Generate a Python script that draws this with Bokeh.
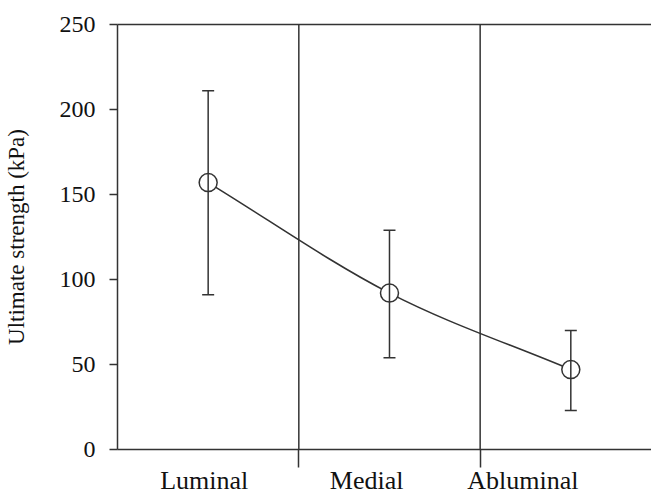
from bokeh.plotting import figure
from bokeh.models import (Range1d, LinearAxis, FixedTicker, Span, Whisker,
                          TeeHead, ColumnDataSource)
from bokeh.embed import file_html
from bokeh.resources import INLINE

# ---- data ----
categories = ["Luminal", "Medial", "Abluminal"]
means = [157, 92, 47]
upper = [211, 129, 70]
lower = [91, 54, 23]
y_ticks = [0, 50, 100, 150, 200, 250]

# ---- layout constants ----
cat_x = [i + 0.5 for i in range(len(categories))]
label_shift = [-0.022, -0.126, -0.264]      # labels sit a bit left of the point
label_x = [c + s for c, s in zip(cat_x, label_shift)]
dividers = [i + 1 for i in range(len(categories) - 1)]

INK = "#333333"
TXT = "#111111"
FONT = "Liberation Serif"

p = figure(width=651, height=497, x_range=Range1d(0, 2.945),
           y_range=Range1d(0, 250), output_backend="svg",
           toolbar_location=None)
p.min_border_left = 115
p.min_border_top = 24
p.min_border_right = 0
p.min_border_bottom = 46
p.outline_line_color = None
p.xgrid.visible = False
p.ygrid.visible = False
p.background_fill_color = "white"
p.border_fill_color = "white"

# y axis
ya = p.yaxis[0]
ya.ticker = FixedTicker(ticks=y_ticks)
ya.major_tick_out = 8
ya.major_tick_in = 0
ya.minor_tick_out = 0
ya.minor_tick_in = 0
ya.axis_line_color = INK
ya.axis_line_width = 1.5
ya.major_tick_line_color = INK
ya.major_tick_line_width = 1.5
ya.major_label_text_font = FONT
ya.major_label_text_font_size = "24px"
ya.major_label_text_color = TXT
ya.major_label_standoff = 14
ya.axis_label = "Ultimate strength (kPa)"
ya.axis_label_text_font = FONT
ya.axis_label_text_font_size = "23px"
ya.axis_label_text_font_style = "normal"
ya.axis_label_text_color = TXT
ya.axis_label_standoff = 28

# x axis: category names (major, no mark) + divider ticks (minor)
xa = p.xaxis[0]
xa.ticker = FixedTicker(ticks=label_x, minor_ticks=dividers)
xa.major_label_overrides = {lx: c for lx, c in zip(label_x, categories)}
xa.major_tick_out = 0
xa.major_tick_in = 0
xa.major_tick_line_color = None
xa.minor_tick_out = 18
xa.minor_tick_in = 0
xa.minor_tick_line_color = INK
xa.minor_tick_line_width = 1.5
xa.axis_line_color = INK
xa.axis_line_width = 1.5
xa.major_label_text_font = FONT
xa.major_label_text_font_size = "26px"
xa.major_label_text_color = TXT
xa.major_label_standoff = -2

# top border line
top = LinearAxis(ticker=FixedTicker(ticks=[]), major_tick_out=0,
                 major_tick_in=0, minor_tick_out=0, minor_tick_in=0,
                 major_label_text_font_size="0px", major_label_standoff=0,
                 axis_line_color=INK, axis_line_width=1.5)
p.add_layout(top, "above")

# divider lines
for d in dividers:
    p.add_layout(Span(location=d, dimension="height", line_color=INK,
                      line_width=1.5))

# smooth connecting curve (Catmull-Rom -> cubic Bezier)
n = len(cat_x)
pts = list(zip(cat_x, means))
x0, y0, x1, y1, cx0, cy0, cx1, cy1 = [], [], [], [], [], [], [], []
for i in range(n - 1):
    pa, pb = pts[i], pts[i + 1]
    pprev = pts[i - 1] if i > 0 else pa
    pnext = pts[i + 2] if i + 2 < n else pb
    k0 = 6.0 if i > 0 else 3.0
    k1 = 6.0 if i + 2 < n else 3.0
    x0.append(pa[0]); y0.append(pa[1])
    x1.append(pb[0]); y1.append(pb[1])
    cx0.append(pa[0] + (pb[0] - pprev[0]) / k0)
    cy0.append(pa[1] + (pb[1] - pprev[1]) / k0)
    cx1.append(pb[0] - (pnext[0] - pa[0]) / k1)
    cy1.append(pb[1] - (pnext[1] - pa[1]) / k1)
p.bezier(x0=x0, y0=y0, x1=x1, y1=y1, cx0=cx0, cy0=cy0, cx1=cx1, cy1=cy1,
         line_color=INK, line_width=1.6)

# error bars
src = ColumnDataSource(dict(x=cat_x, mean=means, upper=upper, lower=lower))
w = Whisker(source=src, base="x", upper="upper", lower="lower",
            line_color=INK, line_width=1.5, level="glyph",
            upper_head=TeeHead(size=12, line_color=INK, line_width=1.5),
            lower_head=TeeHead(size=12, line_color=INK, line_width=1.5))
p.add_layout(w)

p.scatter(x="x", y="mean", source=src, size=18, fill_color="white",
          line_color=INK, line_width=1.5)

open("out.html", "w").write(file_html(p, INLINE))
